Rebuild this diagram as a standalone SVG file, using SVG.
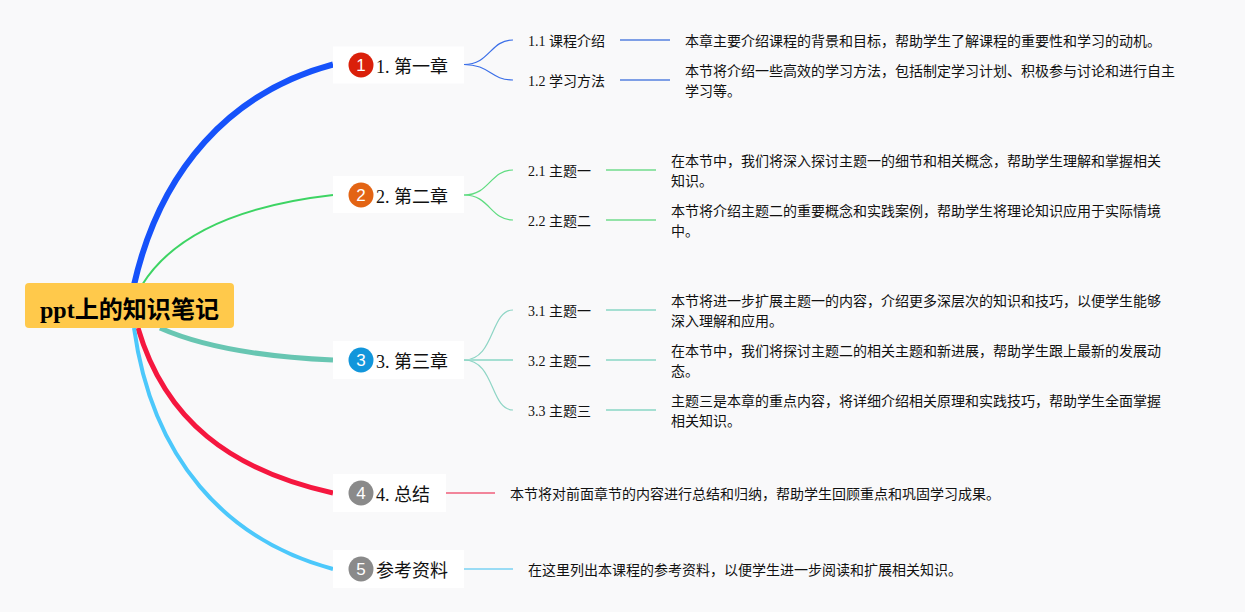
<svg xmlns="http://www.w3.org/2000/svg" width="1245" height="612" viewBox="0 0 1245 612">
<style>
text{font-family:"Liberation Serif","Noto Sans CJK SC",serif;fill:#111}
.m{font-size:18px}.l{font-size:14px}.r{font-size:24px;font-weight:700;fill:#000}
.n{font-family:"Liberation Sans","Noto Sans",sans-serif;font-size:17px;fill:#fff;text-anchor:middle}
.c path{fill:none}
.box{fill:#fff}
</style>
<rect width="1245" height="612" fill="#f9f9fa"/>
<g id="connectors" class="c">
<path d="M134 285C160 170 230 92 333 64.500" stroke="#1652fa" stroke-width="6"/>
<path d="M142 285C175 232 245 205 333 195" stroke="#3dd463" stroke-width="2"/>
<path d="M160 328C205 348 265 357 333 360" stroke="#68c6b2" stroke-width="5"/>
<path d="M138 328C165 420 230 470 333 493" stroke="#f5173f" stroke-width="5"/>
<path d="M134 328C152 458 225 540 333 569" stroke="#4cc8fb" stroke-width="4"/>
<g stroke="#3b6fe8" stroke-width="1.200">
<path d="M464 64.500C490 64.500 490 40 513 40"/><path d="M464 64.500C490 64.500 490 80 513 80"/></g>
<g stroke="#7e9fe6" stroke-width="2"><path d="M620 40H670"/><path d="M620 80H670"/></g>
<g stroke="#5fdc80" stroke-width="1.200">
<path d="M464 195C490 195 490 170 513 170"/><path d="M464 195C490 195 490 220 513 220"/></g>
<g stroke="#93e3a8" stroke-width="2"><path d="M606 170H656"/><path d="M606 220H656"/></g>
<g stroke="#8ed5c5" stroke-width="1.200">
<path d="M464 360C495 360 490 310 513 310"/><path d="M464 360H513" stroke-width="2" stroke="#a5dfd2"/><path d="M464 360C495 360 490 410 513 410"/></g>
<g stroke="#a5dfd2" stroke-width="2"><path d="M606 310H656"/><path d="M606 360H656"/><path d="M606 410H656"/></g>
<path d="M446 493H495" stroke="#f2859a" stroke-width="2"/>
<path d="M464 569H513" stroke="#9adcf5" stroke-width="2"/>
</g>
<g id="root"><rect x="25" y="283" width="209" height="45" rx="4" fill="#ffc94b"/><text class="r" x="40" y="318" textLength="179" lengthAdjust="spacingAndGlyphs">ppt上的知识笔记</text></g>
<g id="ch1"><rect class="box" x="333" y="46.500" width="131" height="37"/><circle cx="361" cy="65" r="12.500" fill="#da200a"/><text class="n" x="361" y="71">1</text><text class="m" x="376" y="73">1. 第一章</text></g>
<g id="ch2"><rect class="box" x="333" y="176" width="131" height="37"/><circle cx="361" cy="195" r="12.500" fill="#e36414"/><text class="n" x="361" y="201">2</text><text class="m" x="376" y="203">2. 第二章</text></g>
<g id="ch3"><rect class="box" x="333" y="341" width="131" height="38"/><circle cx="361" cy="360" r="12.500" fill="#1296db"/><text class="n" x="361" y="366">3</text><text class="m" x="376" y="368">3. 第三章</text></g>
<g id="ch4"><rect class="box" x="333" y="474" width="113" height="38"/><circle cx="361" cy="493" r="12.500" fill="#8a8a8a"/><text class="n" x="361" y="499">4</text><text class="m" x="376" y="501">4. 总结</text></g>
<g id="ch5"><rect class="box" x="333" y="550" width="131" height="38"/><circle cx="361" cy="569" r="12.500" fill="#8a8a8a"/><text class="n" x="361" y="575">5</text><text class="m" x="376" y="577">参考资料</text></g>
<g id="n11"><text class="l" x="528" y="46">1.1 课程介绍</text></g>
<g id="n12"><text class="l" x="528" y="86">1.2 学习方法</text></g>
<g id="n21"><text class="l" x="528" y="176">2.1 主题一</text></g>
<g id="n22"><text class="l" x="528" y="226">2.2 主题二</text></g>
<g id="n31"><text class="l" x="528" y="316">3.1 主题一</text></g>
<g id="n32"><text class="l" x="528" y="366">3.2 主题二</text></g>
<g id="n33"><text class="l" x="528" y="416">3.3 主题三</text></g>
<g id="d11"><text class="l" x="685" y="46">本章主要介绍课程的背景和目标，帮助学生了解课程的重要性和学习的动机。</text></g>
<g id="d12"><text class="l" x="685" y="76">本节将介绍一些高效的学习方法，包括制定学习计划、积极参与讨论和进行自主</text><text class="l" x="685" y="96">学习等。</text></g>
<g id="d21"><text class="l" x="671" y="166">在本节中，我们将深入探讨主题一的细节和相关概念，帮助学生理解和掌握相关</text><text class="l" x="671" y="186">知识。</text></g>
<g id="d22"><text class="l" x="671" y="216">本节将介绍主题二的重要概念和实践案例，帮助学生将理论知识应用于实际情境</text><text class="l" x="671" y="236">中。</text></g>
<g id="d31"><text class="l" x="671" y="306">本节将进一步扩展主题一的内容，介绍更多深层次的知识和技巧，以便学生能够</text><text class="l" x="671" y="326">深入理解和应用。</text></g>
<g id="d32"><text class="l" x="671" y="356">在本节中，我们将探讨主题二的相关主题和新进展，帮助学生跟上最新的发展动</text><text class="l" x="671" y="376">态。</text></g>
<g id="d33"><text class="l" x="671" y="406">主题三是本章的重点内容，将详细介绍相关原理和实践技巧，帮助学生全面掌握</text><text class="l" x="671" y="426">相关知识。</text></g>
<g id="d4"><text class="l" x="510" y="499">本节将对前面章节的内容进行总结和归纳，帮助学生回顾重点和巩固学习成果。</text></g>
<g id="d5"><text class="l" x="528" y="575">在这里列出本课程的参考资料，以便学生进一步阅读和扩展相关知识。</text></g>
</svg>
